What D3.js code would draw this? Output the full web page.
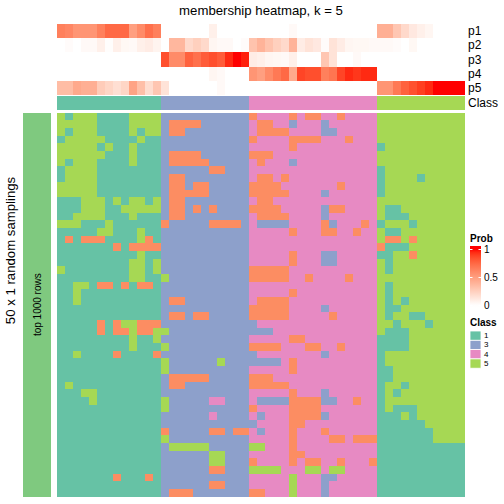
<!DOCTYPE html>
<html><head><meta charset="utf-8">
<script src="https://cdn.jsdelivr.net/npm/d3@7"></script>
<style>
body{margin:0;background:#fff}
svg{display:block}
text{font-family:"Liberation Sans",Arial,Helvetica,sans-serif;fill:#000}
</style>
</head><body>
<svg id="chart" width="504" height="504"></svg>
<script>
// ---------------- data ----------------
const titleText = "membership heatmap, k = 5";
const rowTitle = "50 x 1 random samplings";
const rowGroupLabel = "top 1000 rows";
const classIds = ["1","2","3","4","5"];
const classColors = ["#66C2A5","#FC8D62","#8DA0CB","#E78AC3","#A6D854"];
const legendClasses = ["1","3","4","5"];
const probNames = ["p1","p2","p3","p4","p5"];
const probTicks = [0, 0.5, 1];

// consensus class of each of the 51 columns
const columnClass = "1111111111111 33333333333 4444444444444444 55555555555".replace(/ /g,"").split("");

const p1 = [0.65,0.62,0.55,0.55,0.55,0.65,0.75,0.75,0.75,0.5,0.6,0.72,0.65,
            0,0,0,0,0,0,0.08,0,0,0,0,
            0,0,0,0,0,0.03,0,0,0,0,0,0,0,0,0,0,
            0.42,0.42,0.3,0.2,0.12,0.08,0.05,0,0,0,0];
const p2 = [0,0.02,0,0.03,0.03,0.08,0.01,0.08,0.04,0.03,0.08,0.1,0.06,
            0,0.38,0.38,0.2,0.25,0.2,0.05,0.03,0.03,0,0.02,
            0.32,0.4,0.32,0.25,0.2,0.4,0.1,0.15,0.12,0.02,0.15,0.1,0.05,0.04,0.04,0.03,
            0.03,0.03,0.02,0,0.04,0,0,0,0,0,0];
const p3 = [0,0,0,0,0,0,0,0,0,0,0,0,0,
            0.85,0.6,0.6,0.78,0.72,0.8,0.85,0.8,0.95,1,0.97,
            0.1,0.08,0.05,0.04,0.03,0.08,0,0,0,0.3,0.15,0,0,0.03,0,0,
            0,0,0,0,0,0,0,0,0,0,0];
const p4 = [0,0,0,0,0,0,0,0,0,0,0,0,0,
            0,0,0,0,0,0,0.05,0.03,0,0,0,
            0.55,0.5,0.6,0.68,0.75,0.45,0.88,0.85,0.85,0.65,0.7,0.88,0.95,0.92,0.95,0.95,
            0,0,0,0,0,0,0,0,0,0,0];
const p5 = [0.35,0.35,0.45,0.42,0.42,0.27,0.22,0.17,0.22,0.48,0.34,0.18,0.3,
            0.15,0,0,0,0,0,0,0.03,0,0,0,
            0,0,0,0,0,0,0,0,0,0,0,0,0,0,0,0,
            0.55,0.55,0.68,0.78,0.84,0.9,0.95,1,1,1,1];

// class assigned in each of the 50 random samplings (rows) for each column
const membershipRows = [
 "5155511115555 33333333333 2444424224424444 55555555555",
 "5555511115555 32222333333 4224434443444444 55555555555",
 "5155511115155 32233333333 4222244443344444 55555555555",
 "1555551111511 33333333333 2444422224442444 55555555555",
 "5555515115111 33333333333 4444424444444444 15555555555",
 "5555551115111 32222333333 2224444444444444 55555555555",
 "5155511115111 32222233333 4244434444444444 55555555555",
 "1555511111111 33333322333 4444444444444444 15555555555",
 "1555511111111 32233333333 4224244444444444 15555155555",
 "5555511111111 32232233333 2222444444424444 15555555555",
 "5555511111111 32222233333 2222244443444444 15555555555",
 "1115551515515 32233333333 4224444444444444 55555555555",
 "1115551155555 32232323333 2222444443224444 51155555555",
 "1155551115111 32233333333 4222244443444444 51115555555",
 "5551115111111 23333322223 4333344442344424 15551555555",
 "1111155111511 33333333333 4444424442244244 51155555555",
 "1212221111521 33333333333 4444444444444444 52252555555",
 "1111111212222 33333333333 4444444444444444 21115555555",
 "1111111111511 33333333333 4444424443344444 11552555555",
 "1111111115515 33333333333 4444424443344444 51555555555",
 "5111111115515 33333333333 2222244444444444 51555555555",
 "1111111115511 53333333333 2222244244442444 55555555555",
 "1155122121221 33333333333 4444444444444444 51555555555",
 "1151111111111 33333333333 4444424444444444 51555555555",
 "1151111111111 32233333333 4222244444444444 51515555555",
 "1111111111111 33333333333 2222244443444444 51155555555",
 "1111111111111 32232233333 2222244444244444 51551155555",
 "1111121255222 33333333333 3444444444444444 55155515555",
 "1111121225225 53333333333 3334444444444444 51115555555",
 "1111111115115 33333333333 4444422444444444 11115555555",
 "1111111115111 53333333333 2222444224424444 11115555555",
 "1151111211112 33333333333 3444444443444444 15555555555",
 "1111111111111 53333335333 3333424444444444 15555555555",
 "1111111111111 53333333333 4444424444444444 11555555555",
 "1111111111111 32222233333 2224444444444444 11555555555",
 "1511111111111 32233333333 2222244444444444 15515555555",
 "1115511111111 33333333333 4444424443444444 15155555555",
 "1111511111111 53333344333 4333322223344244 15555555555",
 "1111111111111 53333333333 2444422224444444 15111555555",
 "1111111111111 33333343333 4344422223444444 11151555555",
 "1111111111111 33333333333 3444422444444444 11111155555",
 "1111111111111 23333322322 4344424442444444 11111115555",
 "1111111111111 53333333333 4444424444224222 11111115555",
 "1111111111111 35555533333 5544424444444444 11111111111",
 "1111111111111 33333355333 4444422444444444 11111111111",
 "1111111111111 33333355333 2444424224424442 11111111111",
 "1111111111111 33333322333 5555444554554444 11111111111",
 "1111111211121 33333333333 4444454443344444 11111111111",
 "1111111111111 33333322333 4444454443444444 11111111111",
 "1111111111111 32223333333 2244454443444444 11111111111"
];

// ---------------- drawing ----------------
const svg = d3.select("#chart");
const probs = [p1, p2, p3, p4, p5];
const matrix = membershipRows.map(s => s.replace(/ /g, "").split(""));
const nCols = columnClass.length;
const nRows = matrix.length;

const classColor = d3.scaleOrdinal().domain(classIds).range(classColors);
const probColor = d3.scaleLinear().domain([0, 1]).range(["#FFFFFF", "#FF0000"]).interpolate(d3.interpolateLab);

const x = d3.scaleBand().domain(d3.range(nCols)).range([57, 465]);
const yMain = d3.scaleBand().domain(d3.range(nRows)).range([112.7, 496.7]);
const yAnn = d3.scaleBand().domain(probNames).range([24, 95]);
const classRowY = 96, classRowH = 13.7;

// title
svg.append("text").attr("x", 261).attr("y", 15).attr("text-anchor", "middle")
  .style("font-size", "13.2px").text(titleText);

// probability annotation rows
probNames.forEach((name, i) => {
  const g = svg.append("g").attr("shape-rendering", "crispEdges");
  g.selectAll("rect").data(probs[i]).join("rect")
    .attr("x", (d, j) => x(j)).attr("y", yAnn(name))
    .attr("width", x.bandwidth()).attr("height", yAnn.bandwidth())
    .attr("fill", d => probColor(d));
  svg.append("text").attr("x", 468).attr("y", yAnn(name) + yAnn.bandwidth() / 2)
    .attr("dominant-baseline", "central").style("font-size", "12px").text(name);
});

// class annotation row
svg.append("g").attr("shape-rendering", "crispEdges")
  .selectAll("rect").data(columnClass).join("rect")
  .attr("x", (d, j) => x(j)).attr("y", classRowY)
  .attr("width", x.bandwidth()).attr("height", classRowH)
  .attr("fill", d => classColor(d));
svg.append("text").attr("x", 468).attr("y", classRowY + classRowH / 2)
  .attr("dominant-baseline", "central").style("font-size", "12px").text("Class");

// main heatmap
const cells = [];
matrix.forEach((row, r) => row.forEach((c, j) => cells.push({r, j, c})));
svg.append("g").attr("shape-rendering", "crispEdges")
  .selectAll("rect").data(cells).join("rect")
  .attr("x", d => x(d.j)).attr("y", d => yMain(d.r))
  .attr("width", x.bandwidth()).attr("height", yMain.bandwidth())
  .attr("fill", d => classColor(d.c));

// left row-group bar and titles
svg.append("rect").attr("x", 22.7).attr("y", yMain.range()[0])
  .attr("width", 28.3).attr("height", yMain.range()[1] - yMain.range()[0])
  .attr("fill", "#7FC97F").attr("shape-rendering", "crispEdges");
const midY = (yMain.range()[0] + yMain.range()[1]) / 2;
svg.append("text").attr("transform", `translate(40.5,${midY}) rotate(-90)`)
  .attr("text-anchor", "middle").style("font-size", "10px").text(rowGroupLabel);
svg.append("text").attr("transform", `translate(14.5,250.5) rotate(-90)`)
  .attr("text-anchor", "middle").style("font-size", "13.2px").text(rowTitle);

// Prob legend
const lg = svg.append("g");
lg.append("text").attr("x", 470).attr("y", 242).style("font-size", "10px")
  .style("font-weight", "bold").text("Prob");
const probY = d3.scaleLinear().domain([0, 1]).range([305.5, 249.5]);
const barTop = 246, barBot = 308;
const defs = svg.append("defs");
const grad = defs.append("linearGradient").attr("id", "probGrad")
  .attr("x1", 0).attr("y1", 1).attr("x2", 0).attr("y2", 0);
d3.range(0, 1.0001, 0.05).forEach(t => {
  const yy = barBot - t * (barBot - barTop);
  const v = Math.max(0, Math.min(1, probY.invert(yy)));
  grad.append("stop").attr("offset", t).attr("stop-color", probColor(v));
});
lg.append("rect").attr("x", 470).attr("y", barTop).attr("width", 11)
  .attr("height", barBot - barTop).attr("fill", "url(#probGrad)");
probTicks.forEach(v => {
  lg.append("line").attr("x1", 470).attr("x2", 472.5).attr("y1", probY(v)).attr("y2", probY(v))
    .attr("stroke", "#fff").attr("stroke-width", 1);
  lg.append("line").attr("x1", 478.5).attr("x2", 481).attr("y1", probY(v)).attr("y2", probY(v))
    .attr("stroke", "#fff").attr("stroke-width", 1);
});
const axis = d3.axisRight(probY).tickValues(probTicks).tickSize(0).tickPadding(3)
  .tickFormat(d3.format("~g"));
const axG = lg.append("g").attr("transform", "translate(481,0)").call(axis);
axG.select(".domain").remove();
axG.selectAll("text").style("font-size", "10px")
  .style("font-family", "'Liberation Sans',Arial,sans-serif").attr("fill", "#000");

// Class legend
lg.append("text").attr("x", 470).attr("y", 326).style("font-size", "10px")
  .style("font-weight", "bold").text("Class");
const boxH = 9.3;
legendClasses.forEach((c, i) => {
  const yy = 331 + i * boxH;
  lg.append("rect").attr("x", 470).attr("y", yy).attr("width", 11).attr("height", boxH)
    .attr("fill", classColor(c)).attr("stroke", "#fff").attr("stroke-width", 0.8);
  lg.append("text").attr("x", 484).attr("y", yy + boxH / 2).attr("dominant-baseline", "central")
    .style("font-size", "8px").text(c);
});
</script>
</body></html>
